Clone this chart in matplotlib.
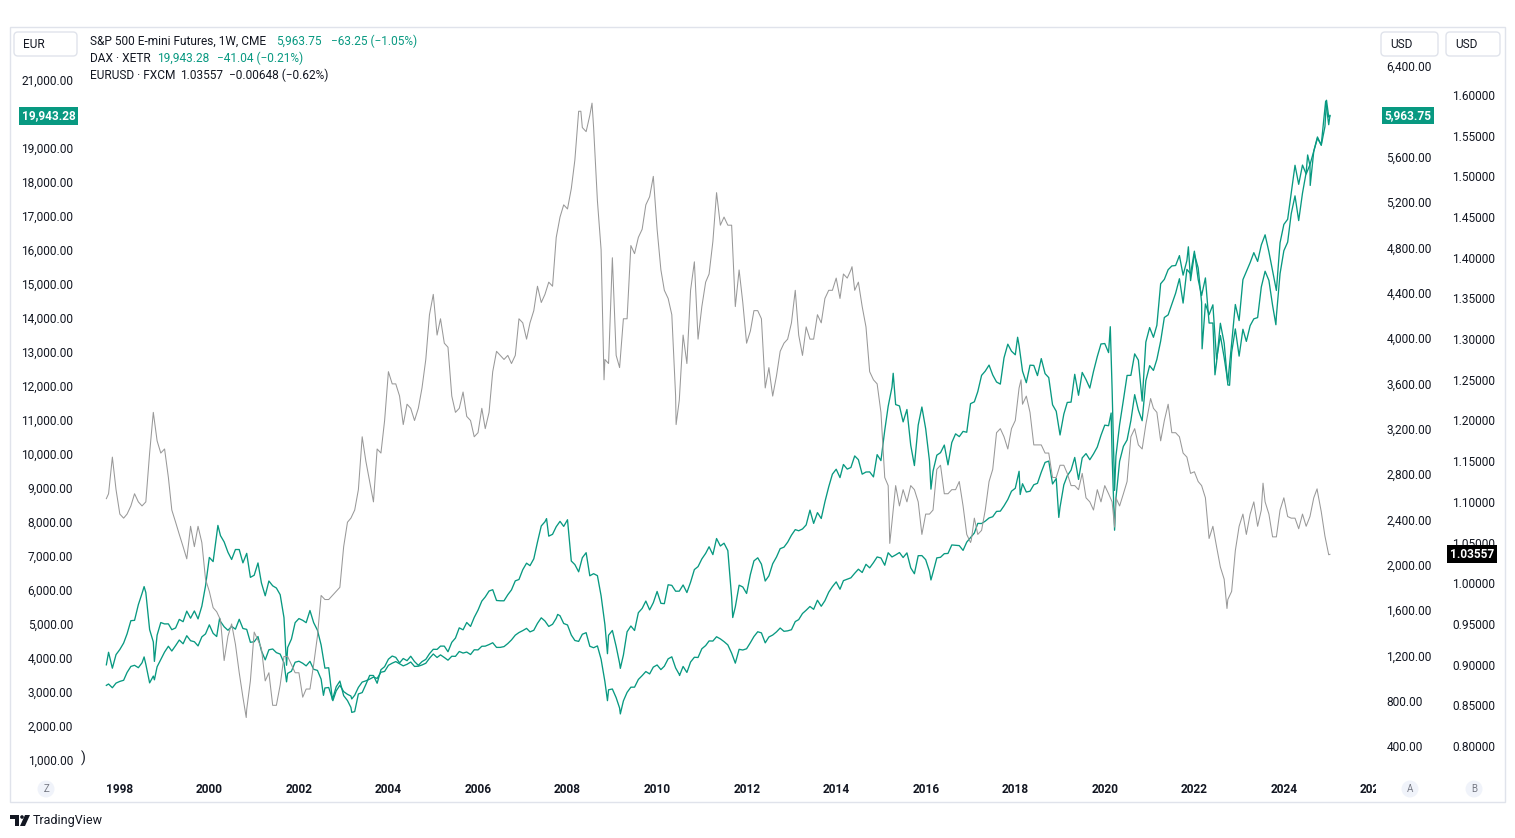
import numpy as np
import pandas as pd
import matplotlib
matplotlib.use('Agg')
import matplotlib.pyplot as plt
import matplotlib.dates as mdates
from matplotlib.patches import FancyBboxPatch, Rectangle, Circle, Polygon
from matplotlib.ticker import FixedLocator, FuncFormatter
from matplotlib.transforms import blended_transform_factory, IdentityTransform, Bbox, TransformedBbox

plt.rcParams['font.family'] = ['Roboto', 'DejaVu Sans']

W, H = 1515, 838
GREEN = '#089981'
GREY = '#999999'
TXT = '#131722'

# month-end closes, Sep 1997 .. Dec 2024
spx_monthly = [
    947, 914, 955, 970,
    980, 1049, 1102, 1112, 1091, 1134, 1121, 957, 1017, 1099, 1164, 1229,
    1280, 1238, 1286, 1335, 1302, 1373, 1329, 1320, 1283, 1363, 1389, 1469,
    1394, 1366, 1499, 1452, 1421, 1455, 1431, 1518, 1437, 1429, 1315, 1320,
    1366, 1240, 1160, 1249, 1256, 1224, 1211, 1134, 1041, 1060, 1139, 1148,
    1130, 1107, 1147, 1077, 1067, 990, 912, 916, 815, 886, 936, 880,
    856, 841, 848, 917, 964, 975, 990, 1008, 996, 1051, 1058, 1112,
    1131, 1145, 1126, 1107, 1121, 1141, 1102, 1104, 1115, 1130, 1174, 1212,
    1181, 1204, 1181, 1157, 1192, 1191, 1234, 1220, 1229, 1207, 1249, 1248,
    1280, 1281, 1295, 1311, 1270, 1270, 1277, 1304, 1336, 1378, 1401, 1418,
    1438, 1407, 1421, 1482, 1531, 1503, 1455, 1474, 1527, 1549, 1481, 1468,
    1379, 1331, 1323, 1386, 1400, 1280, 1267, 1283, 1166, 969, 896, 903,
    826, 735, 798, 873, 919, 919, 987, 1021, 1057, 1036, 1096, 1115,
    1074, 1104, 1169, 1187, 1089, 1031, 1102, 1049, 1141, 1183, 1181, 1258,
    1286, 1327, 1326, 1364, 1345, 1321, 1292, 1219, 1131, 1253, 1247, 1258,
    1312, 1366, 1408, 1398, 1310, 1362, 1379, 1407, 1441, 1412, 1416, 1426,
    1498, 1515, 1569, 1598, 1631, 1606, 1686, 1633, 1682, 1757, 1806, 1848,
    1783, 1859, 1872, 1884, 1924, 1960, 1931, 2003, 1972, 2018, 2068, 2059,
    1995, 2105, 2068, 2086, 2107, 2063, 2104, 1972, 1920, 2079, 2080, 2044,
    1940, 1932, 2060, 2065, 2097, 2099, 2174, 2171, 2168, 2126, 2199, 2239,
    2279, 2364, 2363, 2384, 2412, 2423, 2470, 2472, 2519, 2575, 2648, 2674,
    2824, 2714, 2641, 2648, 2705, 2718, 2816, 2902, 2914, 2712, 2760, 2507,
    2704, 2784, 2834, 2946, 2752, 2942, 2980, 2926, 2977, 3038, 3141, 3231,
    3226, 2954, 2585, 2912, 3044, 3100, 3271, 3500, 3363, 3270, 3622, 3756,
    3714, 3811, 3973, 4181, 4204, 4298, 4395, 4523, 4308, 4605, 4567, 4766,
    4516, 4374, 4530, 4132, 4132, 3785, 4130, 3955, 3586, 3872, 4080, 3840,
    4077, 3970, 4109, 4169, 4180, 4450, 4589, 4508, 4288, 4194, 4568, 4770,
    4846, 5096, 5254, 5036, 5278, 5460, 5522, 5648, 5762, 5705, 6032, 5882,
]
dax_monthly = [
    4168, 3700, 4100, 4250,
    4440, 4710, 5097, 5108, 5569, 5898, 5925, 4834, 4474, 4672, 5043, 5002,
    5004, 4832, 4884, 5135, 5068, 5378, 5170, 5384, 5150, 5524, 6121, 6958,
    6835, 7644, 7599, 7414, 7110, 6898, 7191, 7190, 6798, 7078, 6372, 6434,
    6796, 6208, 5830, 6265, 6123, 6058, 5862, 5188, 4308, 4559, 5039, 5160,
    5108, 5039, 5397, 5041, 4818, 4383, 3701, 3713, 2769, 3153, 3321, 2893,
    2748, 2547, 2424, 2942, 2983, 3221, 3487, 3485, 3257, 3655, 3745, 3965,
    4058, 4018, 3856, 3985, 3921, 4052, 3895, 3785, 3893, 3960, 4126, 4256,
    4254, 4350, 4349, 4184, 4461, 4587, 4887, 4829, 5044, 4929, 5193, 5408,
    5674, 5796, 5970, 6009, 5692, 5683, 5682, 5860, 6004, 6269, 6309, 6597,
    6789, 6716, 6917, 7409, 7884, 8007, 7584, 7638, 7862, 8019, 7871, 8067,
    6852, 6748, 6535, 6949, 7097, 6418, 6480, 6422, 5831, 4988, 4669, 4810,
    4338, 3844, 4085, 4770, 4941, 4809, 5332, 5458, 5675, 5415, 5626, 5957,
    5608, 5598, 6154, 6136, 5964, 5966, 6148, 5925, 6229, 6601, 6688, 6914,
    7077, 7272, 7041, 7514, 7294, 7376, 7159, 5785, 5502, 6141, 6089, 5898,
    6458, 6856, 6947, 6761, 6264, 6416, 6772, 6971, 7216, 7260, 7406, 7612,
    7776, 7742, 7795, 7914, 8349, 7959, 8276, 8103, 8594, 9034, 9406, 9552,
    9306, 9692, 9556, 9603, 9943, 9833, 9407, 9470, 9474, 9327, 9981, 9806,
    10694, 11402, 11966, 11454, 11414, 10945, 11309, 10259, 9660, 10850, 11382, 10743,
    9798, 9495, 9966, 10039, 10263, 9680, 10337, 10593, 10511, 10665, 10640, 11481,
    11535, 11834, 12313, 12438, 12615, 12325, 12118, 12056, 12829, 13230, 13024, 12918,
    13189, 12436, 12097, 12612, 12605, 12306, 12806, 12364, 12247, 11447, 11257, 10559,
    11173, 11516, 11526, 12344, 11727, 12399, 12189, 11939, 12428, 12867, 13236, 13249,
    12982, 11890, 9936, 10862, 11587, 12311, 12313, 12945, 12761, 11556, 13291, 13719,
    13433, 13786, 15008, 15136, 15421, 15531, 15544, 15835, 15261, 15689, 15100, 15885,
    15471, 14461, 14415, 14098, 14388, 12784, 13484, 12835, 12114, 13253, 14397, 13924,
    15128, 15365, 15629, 15922, 15664, 16148, 16447, 15947, 15387, 14810, 16215, 16752,
    16904, 17678, 18492, 17932, 18498, 18235, 18509, 18907, 19325, 19078, 19626, 19909,
]
eur_monthly = [
    1.11, 1.155, 1.115, 1.085,
    1.08, 1.085, 1.095, 1.11, 1.10, 1.095, 1.10, 1.16, 1.21, 1.175, 1.16, 1.165,
    1.13, 1.09, 1.075, 1.06, 1.045, 1.03, 1.07, 1.045, 1.07, 1.05, 1.005, 0.99,
    0.97, 0.965, 0.955, 0.905, 0.935, 0.95, 0.925, 0.89, 0.86, 0.845, 0.88, 0.94,
    0.93, 0.92, 0.88, 0.89, 0.85, 0.85, 0.875, 0.91, 0.91, 0.90, 0.89, 0.89,
    0.86, 0.87, 0.87, 0.90, 0.935, 0.985, 0.98, 0.98, 0.985, 0.99, 0.995, 1.045,
    1.075, 1.08, 1.09, 1.115, 1.18, 1.15, 1.125, 1.10, 1.165, 1.16, 1.20, 1.26,
    1.245, 1.245, 1.23, 1.195, 1.22, 1.215, 1.20, 1.215, 1.24, 1.275, 1.33, 1.355,
    1.305, 1.325, 1.295, 1.29, 1.23, 1.21, 1.215, 1.235, 1.205, 1.20, 1.18, 1.185,
    1.215, 1.19, 1.21, 1.26, 1.285, 1.28, 1.275, 1.28, 1.27, 1.28, 1.325, 1.32,
    1.30, 1.32, 1.335, 1.365, 1.345, 1.355, 1.37, 1.365, 1.425, 1.45, 1.465, 1.46,
    1.485, 1.52, 1.58, 1.56, 1.555, 1.575, 1.56, 1.47, 1.41, 1.275, 1.27, 1.40,
    1.28, 1.265, 1.325, 1.325, 1.415, 1.405, 1.425, 1.435, 1.465, 1.475, 1.50, 1.435,
    1.385, 1.36, 1.35, 1.33, 1.23, 1.225, 1.305, 1.27, 1.36, 1.395, 1.30, 1.34,
    1.37, 1.38, 1.42, 1.48, 1.44, 1.45, 1.44, 1.44, 1.34, 1.385, 1.345, 1.295,
    1.31, 1.335, 1.335, 1.325, 1.24, 1.265, 1.23, 1.255, 1.285, 1.295, 1.30, 1.32,
    1.36, 1.305, 1.28, 1.315, 1.30, 1.30, 1.33, 1.32, 1.35, 1.36, 1.36, 1.375,
    1.35, 1.38, 1.375, 1.385, 1.36, 1.37, 1.34, 1.315, 1.26, 1.25, 1.245, 1.21,
    1.13, 1.12, 1.075, 1.12, 1.095, 1.115, 1.10, 1.12, 1.115, 1.10, 1.06, 1.085,
    1.085, 1.09, 1.14, 1.145, 1.11, 1.11, 1.115, 1.115, 1.125, 1.095, 1.06, 1.05,
    1.08, 1.06, 1.065, 1.09, 1.125, 1.14, 1.185, 1.19, 1.18, 1.165, 1.19, 1.20,
    1.24, 1.22, 1.23, 1.21, 1.17, 1.17, 1.17, 1.16, 1.16, 1.13, 1.13, 1.145,
    1.145, 1.135, 1.12, 1.12, 1.115, 1.135, 1.105, 1.10, 1.09, 1.115, 1.10, 1.12,
    1.11, 1.10, 1.105, 1.095, 1.11, 1.125, 1.18, 1.19, 1.17, 1.165, 1.195, 1.22,
    1.215, 1.21, 1.175, 1.20, 1.22, 1.185, 1.185, 1.18, 1.16, 1.155, 1.135, 1.137,
    1.125, 1.12, 1.105, 1.055, 1.07, 1.045, 1.02, 1.005, 0.98, 0.99, 1.04, 1.07,
    1.085, 1.06, 1.085, 1.10, 1.07, 1.09, 1.10, 1.085, 1.057, 1.057, 1.09, 1.105,
    1.082, 1.08, 1.08, 1.067, 1.085, 1.07, 1.082, 1.105, 1.113, 1.088, 1.058, 1.035,
]

# last weekly close shown in the legend
last_date = '2025-01-10'
spx_last, dax_last, eur_last = 5963.75, 19943.28, 1.03557

# weekly extremes between month ends
spx_extra_dates = ['1997-09-12', '1998-07-17', '1998-10-09', '2000-03-24', '2001-09-21', '2002-07-19',
                   '2002-10-04', '2003-03-07', '2007-10-12', '2008-11-21', '2009-03-06', '2010-07-02',
                   '2016-02-12', '2018-02-09', '2018-12-21', '2020-02-21', '2020-03-20', '2022-06-17',
                   '2022-10-14', '2023-10-27', '2024-07-12', '2024-08-02', '2024-12-06']
spx_extra_vals = [935, 1186, 984, 1527, 966, 847, 800, 815, 1561, 800, 683, 1022,
                  1865, 2619, 2417, 3338, 2304, 3675, 3583, 4117, 5615, 5346, 6090]
dax_extra_dates = ['1997-09-12', '1998-07-17', '1998-10-09', '2000-03-10', '2001-09-21', '2003-03-07',
                   '2007-07-13', '2008-11-21', '2009-03-06', '2011-09-09', '2015-04-10', '2016-02-12',
                   '2018-01-19', '2020-02-14', '2020-03-20', '2021-11-12', '2022-03-04', '2024-12-13']
dax_extra_vals = [3800, 6100, 3900, 7900, 3787, 2400, 8100, 4127, 3695, 5190, 12374, 8967,
                  13434, 13744, 8928, 16094, 13094, 20405]
eur_extra_dates = ['1997-09-12', '2000-10-27', '2008-04-18', '2008-07-18', '2008-10-24', '2010-06-04',
                   '2014-05-09', '2015-03-13', '2017-01-06', '2018-02-16', '2020-03-20', '2021-01-08',
                   '2022-09-23', '2023-07-14', '2024-09-27']
eur_extra_vals = [1.104, 0.835, 1.58, 1.59, 1.25, 1.195, 1.389, 1.049, 1.053, 1.25, 1.069, 1.227,
                  0.969, 1.123, 1.116]

dax_ticks = [v for v in range(1000, 22000, 1000)]
spx_ticks = [v for v in range(400, 6800, 400)]
eur_ticks = [0.80, 0.85, 0.90, 0.95, 1.00, 1.05, 1.10, 1.15, 1.20, 1.25, 1.30, 1.35, 1.40, 1.45, 1.50, 1.55, 1.60]


def build(monthly, last, extra_dates, extra_vals):
    d = pd.date_range('1997-09-30', periods=len(monthly), freq=pd.offsets.MonthEnd())
    idx = list(d) + [pd.Timestamp(last_date)] + list(pd.to_datetime(extra_dates))
    vals = list(monthly) + [last] + list(extra_vals)
    return pd.Series(vals, index=idx).sort_index()


spx = build(spx_monthly, spx_last, spx_extra_dates, spx_extra_vals)
dax = build(dax_monthly, dax_last, dax_extra_dates, dax_extra_vals)
eur = build(eur_monthly, eur_last, eur_extra_dates, eur_extra_vals)


def px(x, y):
    # pixel from top-left -> display coords
    return x, H - y


fig = plt.figure(figsize=(W / 100, H / 100), dpi=100)
ax = fig.add_axes([80 / W, 1 - 772 / H, 1298 / W, 745 / H])
ax2 = ax.twinx()
ax3 = ax.twinx()
for a in (ax, ax2, ax3):
    for s in a.spines.values():
        s.set_visible(False)
ax2.patch.set_visible(False)
ax3.patch.set_visible(False)
ax3.spines['right'].set_position(('outward', 47.5))

ax.set_xlim(pd.Timestamp('1997-02-09'), pd.Timestamp('2026-02-06'))
ax.set_ylim(647, 22559)
ax2.set_ylim(170.6, 6744)
ax3.set_ylim(0.76805, 1.68356)

ax3.plot(eur.index, eur.values, color=GREY, lw=0.75)
ax.plot(dax.index, dax.values, color=GREEN, lw=0.95)
ax2.plot(spx.index, spx.values, color=GREEN, lw=0.95)

fs = 8.6
ax.yaxis.set_major_locator(FixedLocator(dax_ticks))
ax.yaxis.set_major_formatter(FuncFormatter(lambda v, p: f'{v:,.2f}'))
ax.tick_params(axis='y', length=0, pad=5, labelsize=fs, labelcolor=TXT)
ax2.yaxis.set_major_locator(FixedLocator(spx_ticks))
ax2.yaxis.set_major_formatter(FuncFormatter(lambda v, p: f'{v:,.2f}'))
ax2.tick_params(axis='y', length=0, pad=6, labelsize=fs, labelcolor=TXT)
ax3.yaxis.set_major_locator(FixedLocator(eur_ticks))
ax3.yaxis.set_major_formatter(FuncFormatter(lambda v, p: f'{v:.5f}'))
ax3.tick_params(axis='y', length=0, pad=6, labelsize=fs, labelcolor=TXT)

ax.xaxis.set_major_locator(mdates.YearLocator(2))
ax.xaxis.set_major_formatter(mdates.DateFormatter('%Y'))
ax.tick_params(axis='x', length=0, pad=8, labelsize=fs, labelcolor=TXT)
clip = TransformedBbox(Bbox.from_extents(0, 0, 1376 / W, 1), fig.transFigure)
for t in ax.xaxis.get_major_ticks():
    t.label1.set_fontweight('bold')
    t.label1.set_clip_box(clip)
    t.label1.set_clip_on(True)

# frame
ident = IdentityTransform()
fig.patches.append(Rectangle(px(10, 802), 1495, 775, transform=ident, fc='none', ec='#e0e3eb', lw=1))

# currency boxes
for x0, w, lab in [(14, 63, 'EUR'), (1381, 57, 'USD'), (1446, 54, 'USD')]:
    fig.patches.append(FancyBboxPatch(px(x0, 56), w, 24, boxstyle='round,pad=0,rounding_size=4',
                                      transform=ident, fc='white', ec='#e0e3eb', lw=1))
    fig.text(*px(x0 + 9, 44), lab, transform=ident, fontsize=fs, color=TXT, va='center', ha='left')

# legend lines
fig.text(*px(90, 41), 'S&P 500 E-mini Futures, 1W, CME', transform=ident, fontsize=fs, color=TXT, va='center')
fig.text(*px(276, 41), '5,963.75', transform=ident, fontsize=fs, color=GREEN, va='center')
fig.text(*px(331, 41), '\u221263.25 (\u22121.05%)', transform=ident, fontsize=fs, color=GREEN, va='center')
fig.text(*px(90, 58), 'DAX \u00b7 XETR', transform=ident, fontsize=fs, color=TXT, va='center')
fig.text(*px(157, 58), '19,943.28', transform=ident, fontsize=fs, color=GREEN, va='center')
fig.text(*px(217, 58), '\u221241.04 (\u22120.21%)', transform=ident, fontsize=fs, color=GREEN, va='center')
fig.text(*px(90, 75), 'EURUSD \u00b7 FXCM', transform=ident, fontsize=fs, color=TXT, va='center')
fig.text(*px(180, 75), '1.03557', transform=ident, fontsize=fs, color=TXT, va='center')
fig.text(*px(229, 75), '\u22120.00648 (\u22120.62%)', transform=ident, fontsize=fs, color=TXT, va='center')

# last value badges
fig.text(48.5 / W, dax_last, f'{dax_last:,.2f}', transform=blended_transform_factory(fig.transFigure, ax.transData),
         ha='center', va='center', fontsize=fs, color='white', fontweight='bold',
         bbox=dict(boxstyle='square,pad=0.2', fc=GREEN, ec='none'))
fig.text(1408 / W, spx_last, f'{spx_last:,.2f}', transform=blended_transform_factory(fig.transFigure, ax2.transData),
         ha='center', va='center', fontsize=fs, color='white', fontweight='bold',
         bbox=dict(boxstyle='square,pad=0.2', fc=GREEN, ec='none'))
fig.text(1472 / W, eur_last, f'{eur_last:.5f}', transform=blended_transform_factory(fig.transFigure, ax3.transData),
         ha='center', va='center', fontsize=fs, color='white', fontweight='bold',
         bbox=dict(boxstyle='square,pad=0.2', fc='black', ec='none'))

fig.text(*px(83, 758), ')', transform=ident, fontsize=10, color=TXT, va='center', ha='center')

# scale buttons
for cx, lab in [(46, 'Z'), (1410, 'A'), (1474, 'B')]:
    fig.patches.append(Circle(px(cx, 789), 8.5, transform=ident, fc='#f0f3fa', ec='none'))
    fig.text(*px(cx, 789), lab, transform=ident, fontsize=7, color='#787b86', va='center', ha='center')

# logo
fig.patches.append(Polygon([px(10, 815), px(19, 815), px(19, 826), px(15, 826), px(15, 819), px(10, 819)],
                           transform=ident, fc=TXT, ec='none'))
fig.patches.append(Circle(px(22, 817), 1.8, transform=ident, fc=TXT, ec='none'))
fig.patches.append(Polygon([px(25, 815), px(30, 815), px(25, 826), px(20, 826)], transform=ident, fc=TXT, ec='none'))
fig.text(*px(33, 820), 'TradingView', transform=ident, fontsize=9, color=TXT, va='center', ha='left')

fig.savefig('out.png', dpi=100)
